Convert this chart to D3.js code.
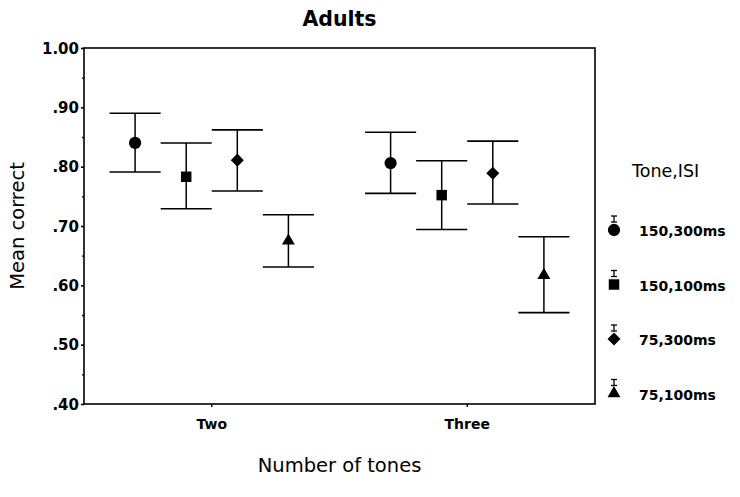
<!DOCTYPE html>
<html>
<head>
<meta charset="utf-8">
<script src="https://cdn.jsdelivr.net/npm/d3@7"></script>
<style>
  body { margin: 0; background: #fff; }
  text { font-family: "DejaVu Sans", sans-serif; fill: #000; }
</style>
</head>
<body>
<div id="chart"></div>
<script>
var svgWidth = 740;
var svgHeight = 497;

var margin = { top: 48, left: 84, right: 145, bottom: 93 };
var chartWidth = svgWidth - margin.left - margin.right;
var chartHeight = svgHeight - margin.top - margin.bottom;

// data
var categories = ["Two", "Three"];
var seriesNames = ["150,300ms", "150,100ms", "75,300ms", "75,100ms"];
var symbolNames = ["circle", "square", "diamond", "triangle"];
var meanValues = [
  [0.840, 0.806],
  [0.783, 0.752],
  [0.811, 0.789],
  [0.675, 0.617]
];
var upperValues = [
  [0.890, 0.858],
  [0.840, 0.810],
  [0.862, 0.843],
  [0.719, 0.682]
];
var lowerValues = [
  [0.791, 0.755],
  [0.729, 0.694],
  [0.759, 0.737],
  [0.631, 0.554]
];
var yTicks = [0.40, 0.50, 0.60, 0.70, 0.80, 0.90, 1.00];
var yMinorTicks = [0.45, 0.55, 0.65, 0.75, 0.85, 0.95];

var svg = d3.select("#chart")
  .append("svg")
  .attr("width", svgWidth)
  .attr("height", svgHeight);

var chartGroup = svg.append("g")
  .attr("transform", `translate(${margin.left},${margin.top})`);

// scales
var xScale = d3.scaleBand()
  .domain(categories)
  .range([0, chartWidth]);

var bw = xScale.bandwidth();
var innerScale = d3.scalePoint()
  .domain(seriesNames)
  .range([bw * 0.2, bw * 0.8]);
var capHalf = bw * 0.1;

var yScale = d3.scaleLinear()
  .domain([0.4, 1.0])
  .range([chartHeight, 0]);

function fmt(v) {
  var s = d3.format(".2f")(v);
  return v < 1 ? s.replace(/^0/, "") : s;
}

function symbolPath(name) {
  if (name === "circle") return d3.symbol(d3.symbolCircle, 118)();
  if (name === "square") return d3.symbol(d3.symbolSquare, 110)();
  if (name === "diamond") return d3.symbol(d3.symbolSquare, 85)();
  return d3.symbol(d3.symbolTriangle, 72)();
}

// frame
chartGroup.append("rect")
  .attr("x", 0).attr("y", 0)
  .attr("width", chartWidth).attr("height", chartHeight)
  .attr("fill", "none")
  .attr("stroke", "#000")
  .attr("stroke-width", 1.6);

// y axis
var yAxis = d3.axisLeft(yScale)
  .tickValues(yTicks)
  .tickFormat(fmt)
  .tickSize(3)
  .tickPadding(2);

var yAxisGroup = chartGroup.append("g").call(yAxis);
yAxisGroup.select(".domain").remove();
yAxisGroup.selectAll("line").attr("stroke-width", 1.6);
yAxisGroup.selectAll("text")
  .style("font-size", "15px")
  .style("font-weight", "bold")
  .attr("dy", "0.35em");

var yMinor = d3.axisLeft(yScale)
  .tickValues(yMinorTicks)
  .tickFormat("")
  .tickSize(2);
var yMinorGroup = chartGroup.append("g").call(yMinor);
yMinorGroup.select(".domain").remove();
yMinorGroup.selectAll("line").attr("stroke-width", 1.4);

// x axis
var xAxis = d3.axisBottom(xScale)
  .tickSize(3)
  .tickPadding(12);
var xAxisGroup = chartGroup.append("g")
  .attr("transform", `translate(0,${chartHeight})`)
  .call(xAxis);
xAxisGroup.select(".domain").remove();
xAxisGroup.selectAll("line").attr("stroke-width", 1.4);
xAxisGroup.selectAll("text")
  .style("font-size", "14px")
  .style("font-weight", "bold");

// error bars and markers
seriesNames.forEach(function(name, i) {
  var g = chartGroup.append("g");
  categories.forEach(function(cat, j) {
    var cx = xScale(cat) + innerScale(name);
    var yUp = yScale(upperValues[i][j]);
    var yLo = yScale(lowerValues[i][j]);
    var yM = yScale(meanValues[i][j]);
    g.append("line")
      .attr("x1", cx).attr("x2", cx)
      .attr("y1", yUp).attr("y2", yLo)
      .attr("stroke", "#000").attr("stroke-width", 1.5);
    [yUp, yLo].forEach(function(yy) {
      g.append("line")
        .attr("x1", cx - capHalf).attr("x2", cx + capHalf)
        .attr("y1", yy).attr("y2", yy)
        .attr("stroke", "#000").attr("stroke-width", 1.6);
    });
    g.append("path")
      .attr("d", symbolPath(symbolNames[i]))
      .attr("transform", `translate(${cx},${yM})` + (symbolNames[i] === "diamond" ? " rotate(45)" : ""))
      .attr("fill", "#000");
  });
});

// title
svg.append("text")
  .attr("x", margin.left + chartWidth / 2)
  .attr("y", 26)
  .attr("text-anchor", "middle")
  .style("font-size", "20.5px")
  .style("font-weight", "bold")
  .text("Adults");

// axis labels
svg.append("text")
  .attr("transform", `translate(24, ${margin.top + chartHeight / 2}) rotate(-90)`)
  .attr("text-anchor", "middle")
  .style("font-size", "19.5px")
  .text("Mean correct");

svg.append("text")
  .attr("x", margin.left + chartWidth / 2)
  .attr("y", 472)
  .attr("text-anchor", "middle")
  .style("font-size", "19.5px")
  .text("Number of tones");

// legend
var legend = svg.append("g")
  .attr("transform", "translate(614, 0)");

legend.append("text")
  .attr("x", 18)
  .attr("y", 177)
  .style("font-size", "17.5px")
  .text("Tone,ISI");

seriesNames.forEach(function(name, i) {
  var ly = 230 + i * 54.5;
  var row = legend.append("g").attr("transform", `translate(0,${ly})`);
  // tiny error bar icon
  row.append("line").attr("x1", 0).attr("x2", 0).attr("y1", -14).attr("y2", -8)
    .attr("stroke", "#000").attr("stroke-width", 1.3);
  [-14, -8].forEach(function(yy) {
    row.append("line").attr("x1", -3).attr("x2", 3).attr("y1", yy).attr("y2", yy)
      .attr("stroke", "#000").attr("stroke-width", 1.3);
  });
  row.append("path")
    .attr("d", symbolPath(symbolNames[i]))
    .attr("transform", symbolNames[i] === "diamond" ? "rotate(45)" : null)
    .attr("fill", "#000");
  row.append("text")
    .attr("x", 25)
    .attr("y", 6)
    .style("font-size", "14px")
    .style("font-weight", "bold")
    .text(name);
});
</script>
</body>
</html>
